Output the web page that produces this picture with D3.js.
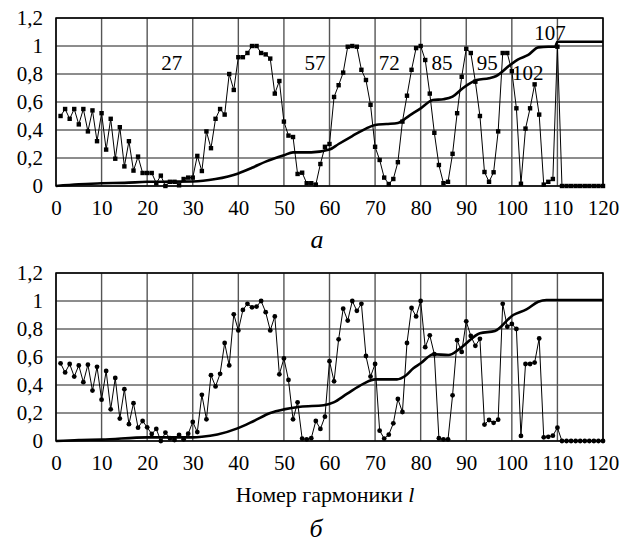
<!DOCTYPE html>
<html><head><meta charset="utf-8">
<script src="https://cdn.jsdelivr.net/npm/d3@7"></script>
<style>
body{margin:0;background:#fff}svg{display:block}
svg text{font-family:"Liberation Serif","DejaVu Serif","Times New Roman",Times,serif !important;}
</style>
</head><body>
<svg id="chart" width="621" height="542"></svg>
<script>
// harmonic values l = 1..120
const topValues = [0.50,0.55,0.48,0.55,0.44,0.55,0.39,0.54,0.32,0.52,
0.26,0.48,0.195,0.42,0.14,0.32,0.11,0.21,0.093,0.093,
0.093,0.02,0.074,0.0,0.03,0.03,0.005,0.05,0.06,0.06,
0.215,0.107,0.39,0.27,0.48,0.55,0.51,0.80,0.686,0.92,
0.92,0.95,1.0,1.0,0.95,0.94,0.91,0.66,0.75,0.46,
0.36,0.35,0.086,0.095,0.02,0.02,0.01,0.157,0.28,0.30,
0.636,0.72,0.81,0.995,1.0,0.995,0.83,0.757,0.58,0.28,
0.186,0.06,0.014,0.05,0.17,0.46,0.645,0.83,0.985,1.0,
0.9,0.66,0.38,0.15,0.02,0.03,0.23,0.52,0.78,0.98,
0.95,0.745,0.50,0.10,0.03,0.098,0.39,0.95,0.95,0.82,
0.555,0.016,0.41,0.555,0.726,0.51,0.01,0.03,0.05,0.995,
0,0,0,0,0,0,0,0,0,0];

const bottomValues = [0.555,0.49,0.55,0.46,0.54,0.42,0.545,0.36,0.53,0.295,
0.50,0.226,0.45,0.16,0.37,0.12,0.27,0.095,0.143,0.098,
0.05,0.086,0.0,0.06,0.02,0.007,0.043,0.012,0.052,0.136,
0.064,0.33,0.155,0.47,0.39,0.48,0.70,0.54,0.905,0.79,
0.936,0.98,0.955,0.96,1.0,0.92,0.79,0.89,0.476,0.59,
0.436,0.155,0.276,0.017,0.012,0.02,0.143,0.086,0.174,0.57,
0.426,0.726,0.945,0.86,1.0,0.93,0.98,0.607,0.46,0.55,
0.074,0.017,0.045,0.126,0.30,0.207,0.70,0.95,0.89,1.0,
0.67,0.755,0.62,0.02,0.012,0.012,0.326,0.72,0.636,0.855,
0.75,0.68,0.73,0.117,0.15,0.13,0.152,0.98,0.816,0.836,
0.80,0.036,0.55,0.55,0.56,0.733,0.026,0.03,0.038,0.095,
0,0,0,0,0,0,0,0,0,0];

// cumulative curves (l, value)
const topCumL = [0,5,10,15,20,30,35,40,43,46,50,52,56,60,62,65,68,70,72.5,75,77.6,80,82.7,85,87,89.3,92.3,95,96.6,99.6,101.4,103.6,105.8,108,109.5,110,120];
const topCumV = [0,0.012,0.02,0.022,0.03,0.032,0.05,0.09,0.13,0.174,0.22,0.24,0.24,0.26,0.30,0.357,0.41,0.436,0.443,0.45,0.505,0.555,0.614,0.62,0.638,0.70,0.757,0.77,0.786,0.864,0.905,0.936,0.99,0.995,0.995,1.03,1.03];

const bottomCumL = [0,5,10,20,30,32,35.4,39.8,43.4,47,50,53.6,58.7,60.9,63.8,67.5,70,74.8,76.6,78.4,80,82.8,86.1,88.6,93,96.3,100.3,103.2,105.8,107.6,120];
const bottomCumV = [0,0.007,0.01,0.026,0.026,0.03,0.046,0.09,0.143,0.2,0.226,0.245,0.255,0.276,0.336,0.41,0.44,0.44,0.464,0.52,0.555,0.62,0.614,0.66,0.77,0.786,0.9,0.94,0.995,1.007,1.007];

const xTicks = [0,10,20,30,40,50,60,70,80,90,100,110,120];
const yTicks = [0,0.2,0.4,0.6,0.8,1,1.2];
const yTickLabels = ["0","0,2","0,4","0,6","0,8","1","1,2"];

const annoTexts = ["27","57","72","85","95","102","107"];
const annoL = [25.4,56.8,73.1,84.7,94.6,103.5,108.4];
const annoV = [0.83,0.83,0.83,0.83,0.83,0.757,1.043];

const svg = d3.select("#chart");

function panel(values, cumL, cumV, marker, y0, y1, annotations) {
  const x = d3.scaleLinear().domain([0,120]).range([56,603]);
  const y = d3.scaleLinear().domain([0,1.2]).range([y1,y0]);
  const g = svg.append("g");

  // grid
  g.selectAll(".hg").data(yTicks).join("line")
    .attr("x1",x(0)).attr("x2",x(120))
    .attr("y1",d=>y(d)).attr("y2",d=>y(d))
    .attr("stroke","#1a1a1a").attr("stroke-width",1);
  g.selectAll(".vg").data(xTicks).join("line")
    .attr("x1",d=>x(d)).attr("x2",d=>x(d))
    .attr("y1",y(0)).attr("y2",y(1.2))
    .attr("stroke","#555").attr("stroke-width",1.4);
  // frame
  g.append("rect").attr("x",x(0)).attr("y",y(1.2))
    .attr("width",x(120)-x(0)).attr("height",y(0)-y(1.2))
    .attr("fill","none").attr("stroke","#000").attr("stroke-width",1.5);

  // axes
  const xa = g.append("g").attr("transform",`translate(0,${y(0)})`)
    .call(d3.axisBottom(x).tickValues(xTicks).tickSize(0).tickPadding(14).tickFormat(d3.format("d")));
  const ya = g.append("g").attr("transform",`translate(${x(0)},0)`)
    .call(d3.axisLeft(y).tickValues(yTicks).tickSize(0).tickPadding(13).tickFormat((d,i)=>yTickLabels[i]));
  [xa,ya].forEach(a=>{
    a.attr("font-family",null).attr("font-size",null);
    a.select(".domain").remove();
    a.selectAll("text").attr("font-size",21).attr("fill","#000");
  });

  // cumulative thick line
  const cum = cumL.map((l,i)=>[l,cumV[i]]);
  g.append("path").datum(cum)
    .attr("d",d3.line().x(d=>x(d[0])).y(d=>y(d[1])).curve(d3.curveMonotoneX))
    .attr("fill","none").attr("stroke","#000").attr("stroke-width",2.6);

  // harmonic thin line
  const pts = values.map((v,i)=>[i+1,v]);
  g.append("path").datum(pts)
    .attr("d",d3.line().x(d=>x(d[0])).y(d=>y(d[1])))
    .attr("fill","none").attr("stroke","#000").attr("stroke-width",1);
  if (marker === "square") {
    g.selectAll(".m").data(pts).join("rect")
      .attr("x",d=>x(d[0])-2.2).attr("y",d=>y(d[1])-2.2)
      .attr("width",4.4).attr("height",4.4).attr("fill","#000");
  } else {
    g.selectAll(".m").data(pts).join("circle")
      .attr("cx",d=>x(d[0])).attr("cy",d=>y(d[1])).attr("r",2.4).attr("fill","#000");
  }

  if (annotations) {
    g.selectAll(".an").data(annoTexts).join("text")
      .attr("x",(d,i)=>x(annoL[i])).attr("y",(d,i)=>y(annoV[i]))
      .attr("text-anchor","middle").attr("font-size",21)
      .text(d=>d);
  }
}

panel(topValues, topCumL, topCumV, "square", 18, 186, true);
panel(bottomValues, bottomCumL, bottomCumV, "circle", 273, 441, false);

svg.append("text").attr("x",317).attr("y",248).attr("text-anchor","middle")
  .attr("font-style","italic").attr("font-size",26).text("а");
const t = svg.append("text").attr("x",325).attr("y",502).attr("text-anchor","middle")
  .attr("font-size",22);
t.append("tspan").text("Номер гармоники ");
t.append("tspan").attr("font-style","italic").text("l");
svg.append("text").attr("x",316).attr("y",537).attr("text-anchor","middle")
  .attr("font-style","italic").attr("font-size",26).text("б");
</script>
</body></html>
